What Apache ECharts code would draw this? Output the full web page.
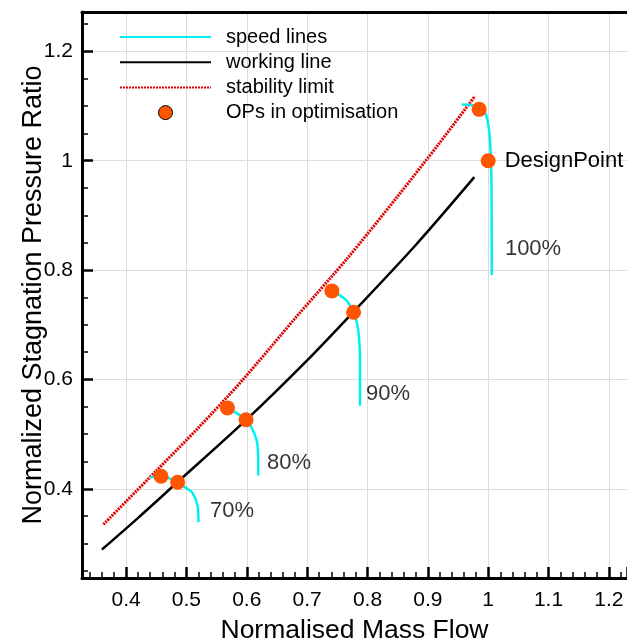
<!DOCTYPE html>
<html>
<head>
<meta charset="utf-8">
<script src="https://cdn.jsdelivr.net/npm/echarts@6/dist/echarts.min.js"></script>
<style>
  html, body { margin: 0; padding: 0; background: #fff; }
  #chart { width: 627px; height: 643px; }
</style>
</head>
<body>
<div id="chart"></div>
<script>
    // working line
    let workX = [0.360, 0.42, 0.485, 0.599, 0.70, 0.777, 0.88, 0.977];
    let workY = [0.289, 0.347, 0.412, 0.526, 0.635, 0.724, 0.846, 0.970];

    // stability limit
    let stabX = [0.3626, 0.45, 0.52, 0.593, 0.681, 0.767, 0.85, 0.919, 0.978];
    let stabY = [0.335, 0.433, 0.512, 0.599, 0.713, 0.822, 0.935, 1.032, 1.118];

    // speed lines
    let s70X = [0.440, 0.458, 0.4855, 0.4994, 0.510, 0.5186, 0.520];
    let s70Y = [0.421, 0.423, 0.412, 0.4018, 0.3927, 0.3682, 0.339];
    let s80X = [0.568, 0.5988, 0.6097, 0.6153, 0.618, 0.619, 0.619];
    let s80Y = [0.548, 0.5265, 0.508, 0.493, 0.4778, 0.4535, 0.4243];
    let s90X = [0.741, 0.7644, 0.777, 0.782, 0.7853, 0.7876, 0.7876];
    let s90Y = [0.762, 0.7455, 0.723, 0.706, 0.6847, 0.636, 0.552];
    let s100X = [0.9565, 0.975, 0.985, 0.996, 1.002, 1.0046, 1.0055, 1.006];
    let s100Y = [1.1027, 1.101, 1.094, 1.085, 1.05, 1.0, 0.95, 0.791];

    // operating points (last one = design point)
    let opX = [0.458, 0.4855, 0.568, 0.5988, 0.741, 0.777, 0.985, 1.0];
    let opY = [0.423, 0.412, 0.548, 0.5265, 0.762, 0.723, 1.094, 1.0];

    // speed labels
    let speedNames = ['70%', '80%', '90%', '100%'];
    let speedLabX = [0.5391, 0.6335, 0.7975, 1.0277];
    let speedLabY = [0.36, 0.4469, 0.5728, 0.8393];

    let font = "'Liberation Sans', Arial, Helvetica, sans-serif";

    function pairs(xs, ys) {
        let out = [];
        for (let i = 0; i < xs.length; i++) {
            out.push([xs[i], ys[i]]);
        }
        return out;
    }

    function speedSeries(xs, ys) {
        return {
            type: 'line',
            name: 'speed lines',
            data: pairs(xs, ys),
            showSymbol: false,
            symbol: 'none',
            smooth: 0.3,
            lineStyle: {color: '#00f0f0', width: 2.5},
            z: 3
        };
    }

    function hideEdge(v) {
        let r = Math.round(v * 10) / 10;
        if (Math.abs(r - v) > 1e-6) {
            return '';
        }
        return String(r);
    }

    let opData = pairs(opX, opY);
    opData[opData.length - 1] = {
        value: opData[opData.length - 1],
        label: {
            show: true,
            position: 'right',
            distance: 9,
            formatter: 'DesignPoint',
            color: '#000',
            fontSize: 22,
            fontFamily: font
        }
    };

    let labData = [];
    for (let i = 0; i < speedNames.length; i++) {
        labData.push({value: [speedLabX[i], speedLabY[i]], name: speedNames[i]});
    }

    let noDot = {color: 'transparent', opacity: 0, borderWidth: 0};

    let myChart = echarts.init(document.getElementById('chart'));
    myChart.setOption({
        animation: false,
        backgroundColor: '#fff',
        textStyle: {fontFamily: font},
        grid: {left: 82, right: 0, top: 12, bottom: 65, outerBoundsMode: 'none', containLabel: false},
        legend: {
            orient: 'vertical',
            left: 114,
            top: 22,
            itemWidth: 91,
            itemHeight: 14,
            itemGap: 5.2,
            textStyle: {fontSize: 20, color: '#000', fontFamily: font, padding: [0, 0, 0, 10]},
            data: [
                {name: 'speed lines', itemStyle: noDot},
                {name: 'working line', itemStyle: noDot},
                {name: 'stability limit', itemStyle: noDot},
                {name: 'OPs in optimisation', itemStyle: {borderColor: '#000', borderWidth: 1}}
            ]
        },
        xAxis: [{
            type: 'value',
            min: 0.327,
            max: 1.23,
            splitNumber: 10,
            name: 'Normalised Mass Flow',
            nameLocation: 'middle',
            nameGap: 39,
            nameMoveOverlap: false,
            nameTextStyle: {fontSize: 26.5, color: '#000', fontFamily: font},
            axisLine: {show: true, onZero: false, lineStyle: {color: '#000', width: 3}},
            axisTick: {show: true, inside: true, length: 11, lineStyle: {color: '#000', width: 2.5}},
            minorTick: {show: true, splitNumber: 5, length: 6, lineStyle: {color: '#000', width: 1.5}},
            axisLabel: {
                showMinLabel: false, showMaxLabel: false, margin: 12,
                fontSize: 21, color: '#000', fontFamily: font, formatter: hideEdge
            },
            splitLine: {show: true, lineStyle: {color: '#dcdcdc', width: 1}}
        }, {
            type: 'value',
            position: 'top',
            min: 0.327,
            max: 1.23,
            axisLine: {show: true, onZero: false, lineStyle: {color: '#000', width: 3}},
            axisTick: {show: false},
            axisLabel: {show: false},
            splitLine: {show: false}
        }],
        yAxis: {
            type: 'value',
            min: 0.237,
            max: 1.272,
            splitNumber: 5,
            name: 'Normalized Stagnation Pressure Ratio',
            nameLocation: 'middle',
            nameGap: 35,
            nameMoveOverlap: false,
            nameTextStyle: {fontSize: 27, color: '#000', fontFamily: font},
            axisLine: {show: true, onZero: false, lineStyle: {color: '#000', width: 3}},
            axisTick: {show: true, inside: true, length: 11, lineStyle: {color: '#000', width: 2.5}},
            minorTick: {show: true, splitNumber: 4, length: 6, lineStyle: {color: '#000', width: 1.5}},
            axisLabel: {
                showMinLabel: false, showMaxLabel: false, margin: 9,
                fontSize: 21, color: '#000', fontFamily: font, formatter: hideEdge
            },
            splitLine: {show: true, lineStyle: {color: '#dcdcdc', width: 1}}
        },
        series: [
            speedSeries(s70X, s70Y),
            speedSeries(s80X, s80Y),
            speedSeries(s90X, s90Y),
            speedSeries(s100X, s100Y),
            {
                type: 'line',
                name: 'working line',
                data: pairs(workX, workY),
                showSymbol: false,
                symbol: 'none',
                smooth: 0.3,
                lineStyle: {color: '#000', width: 2.5},
                z: 2
            },
            {
                type: 'line',
                name: 'stability limit',
                data: pairs(stabX, stabY),
                showSymbol: false,
                symbol: 'none',
                smooth: 0.3,
                lineStyle: {color: '#e00000', width: 3, type: [2, 1]},
                z: 2
            },
            {
                type: 'scatter',
                name: 'OPs in optimisation',
                data: opData,
                symbol: 'circle',
                symbolSize: 15,
                itemStyle: {color: '#ff5500', opacity: 1},
                z: 5
            },
            {
                type: 'scatter',
                name: 'speed labels',
                data: labData,
                symbolSize: 0,
                silent: true,
                label: {
                    show: true,
                    position: 'right',
                    distance: 0,
                    formatter: '{b}',
                    color: '#000',
                    fontSize: 22,
                    fontFamily: font
                },
                z: 4
            }
        ]
    });
</script>
</body>
</html>
